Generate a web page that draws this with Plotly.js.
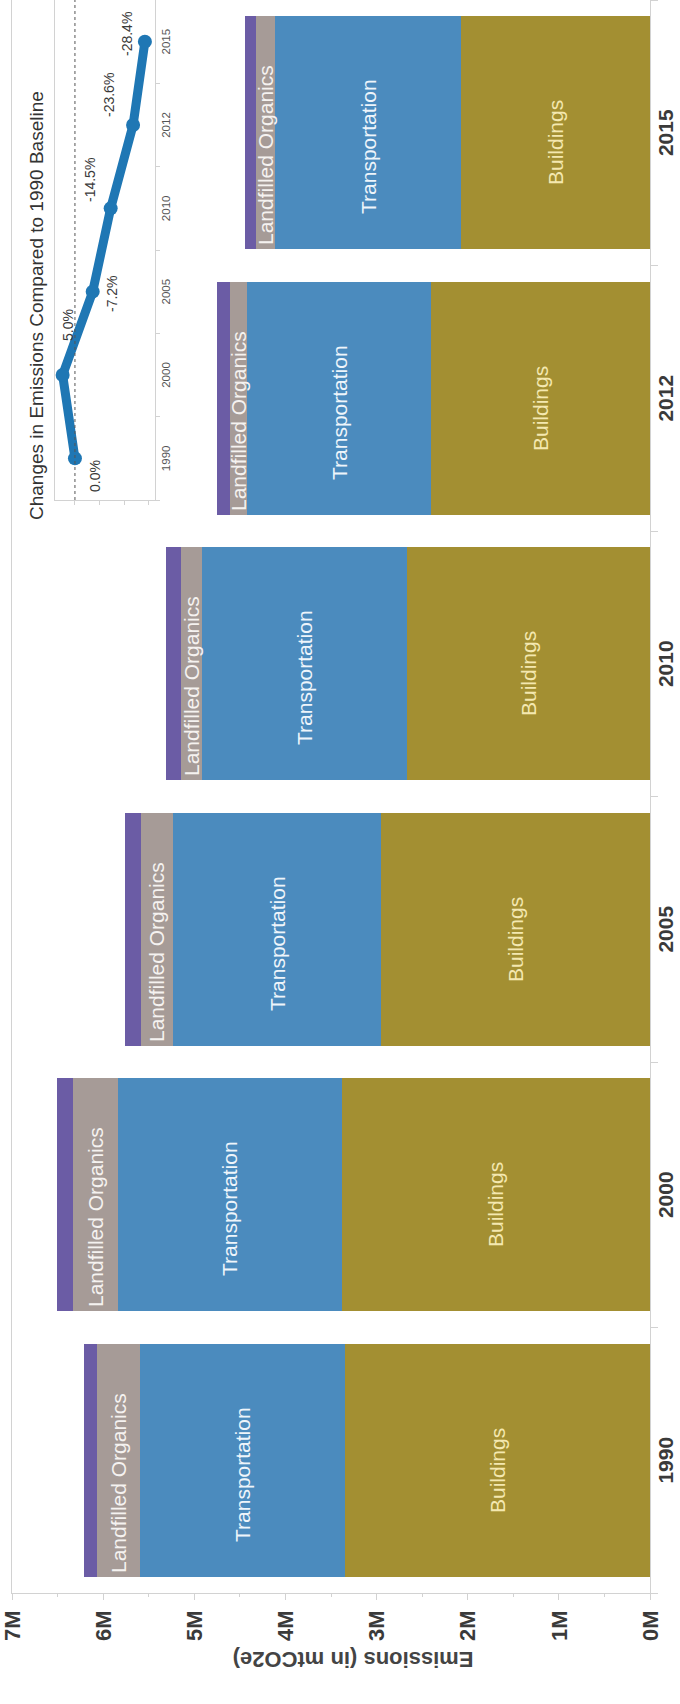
<!DOCTYPE html>
<html>
<head>
<meta charset="utf-8">
<script src="https://cdn.plot.ly/plotly-3.0.1.min.js"></script>
<style>
  html, body { margin: 0; padding: 0; width: 680px; height: 1704px; overflow: hidden; background: #fff; }
  /* the chart is laid out landscape and turned a quarter turn counter-clockwise */
  #chart { position: absolute; left: 0; top: 0; width: 1704px; height: 680px;
           transform-origin: 0 0; transform: translateY(1704px) rotate(-90deg); }
</style>
</head>
<body>
<div id="chart"></div>
<script>
// Community emissions by sector, million tCO2e
const years = ['1990', '2000', '2005', '2010', '2012', '2015'];
const buildings      = [3.35, 3.38, 2.95, 2.67, 2.40, 2.07];
const transportation = [2.25, 2.46, 2.28, 2.24, 2.02, 2.04];
const landfilled     = [0.47, 0.49, 0.36, 0.24, 0.19, 0.21];
const otherSources   = [0.14, 0.18, 0.17, 0.16, 0.14, 0.12];

// Change in total emissions relative to 1990, percent
const pctChange = [0.0, 5.0, -7.2, -14.5, -23.6, -28.4];

// Value axis ticks
const valueTicks = [0, 1, 2, 3, 4, 5, 6, 7];
const valueTickLabels = ['0M', '1M', '2M', '3M', '4M', '5M', '6M', '7M'];

// ---- layout constants ----
const W = 1704, H = 680;
const margin = { l: 111, r: 0, t: 12, b: 30 };
const bargap = 0.122;
const plotW = W - margin.l - margin.r;
const plotH = H - margin.t - margin.b;
const halfBarPx = plotW / years.length * (1 - bargap) / 2;
const catRange = [-0.5, years.length - 0.5];

const arial = '"Liberation Sans", Arial, sans-serif';
const axisGrey = '#d2d2d2';

// Inset placement (pixels inside the landscape figure)
const insetLeft = 1204, insetTop = 55, insetBottom = 155;
const toPaperX = px => (px - margin.l) / plotW;
const toPaperY = py => (H - margin.b - py) / plotH;

function barTrace(name, vals, color) {
  return { type: 'bar', name: name, x: years, y: vals,
           marker: { color: color, line: { width: 0 } }, hoverinfo: 'skip' };
}

const traces = [
  barTrace('Buildings', buildings, '#a38f32'),
  barTrace('Transportation', transportation, '#4b8bbe'),
  barTrace('Landfilled Organics', landfilled, '#a69b97'),
  barTrace('Other', otherSources, '#6b5ca5'),
  { type: 'scatter', mode: 'lines+markers', x: years, y: pctChange,
    xaxis: 'x2', yaxis: 'y2', cliponaxis: false, hoverinfo: 'skip',
    line: { color: '#1f77b4', width: 9 },
    marker: { color: '#1f77b4', size: 14 } }
];

const annotations = [];

// Segment labels inside each stacked bar (x given as category index)
years.forEach((yr, i) => {
  const b = buildings[i], t = transportation[i], l = landfilled[i];
  const base = { x: i, xref: 'x', yref: 'y', showarrow: false, borderpad: 0 };
  annotations.push(Object.assign({}, base, {
    y: b / 2, text: 'Buildings', xshift: -10,
    font: { family: arial, size: 21, color: '#f4e8b0' } }));
  annotations.push(Object.assign({}, base, {
    y: b + t / 2, text: 'Transportation', xshift: -14,
    font: { family: arial, size: 21, color: '#eef5fb' } }));
  annotations.push(Object.assign({}, base, {
    y: b + t + l / 2, text: 'Landfilled Organics', xanchor: 'left',
    xshift: -halfBarPx + 3,
    font: { family: arial, size: 21, color: '#f5f2f0' } }));
});

// Percent labels on the inset line
const pctShiftX = [-18, 50, -2, 28, 30, 8];
const pctShiftY = [-20, -5, -19, 21, 24, 18];
years.forEach((yr, i) => {
  annotations.push({
    x: i, y: pctChange[i], xref: 'x2', yref: 'y2', showarrow: false,
    text: pctChange[i].toFixed(1) + '%',
    xshift: pctShiftX[i], yshift: pctShiftY[i],
    font: { family: arial, size: 14, color: '#3a3a3a' } });
});

// Value axis title
annotations.push({
  xref: 'paper', yref: 'paper', x: toPaperX(30), y: toPaperY(353),
  showarrow: false, textangle: -90, text: 'Emissions (in mtCO2e)',
  font: { family: arial, size: 22, weight: 'bold', color: '#444' } });

const layout = {
  width: W, height: H,
  margin: margin,
  paper_bgcolor: '#fff', plot_bgcolor: '#fff',
  barmode: 'stack', bargap: bargap,
  showlegend: false, hovermode: false,
  title: {
    text: 'Changes in Emissions Compared to 1990 Baseline',
    xref: 'container', yref: 'container',
    x: 1184 / W, xanchor: 'left', y: 1 - 36 / H, yanchor: 'middle',
    font: { family: arial, size: 19, color: '#333' }
  },
  xaxis: {
    type: 'category', range: catRange, autorange: false,
    showgrid: false, zeroline: false,
    showline: true, linecolor: axisGrey, linewidth: 1, mirror: true,
    ticks: 'outside', tickson: 'boundaries', ticklen: 7, tickcolor: axisGrey,
    ticklabelstandoff: -3,
    tickfont: { family: arial, size: 21, weight: 'bold', color: '#3a3a3a' }
  },
  yaxis: {
    range: [0, 7], autorange: false, showgrid: false, zeroline: false,
    showline: true, linecolor: axisGrey, linewidth: 1,
    tickmode: 'array', tickvals: valueTicks, ticktext: valueTickLabels,
    ticks: 'outside', ticklen: 6, tickcolor: axisGrey, ticklabelstandoff: 6,
    ticklabeloverflow: 'allow',
    minor: { dtick: 0.5, tick0: 0, ticks: 'outside', ticklen: 3, tickcolor: axisGrey },
    tickfont: { family: arial, size: 22, weight: 'bold', color: '#3a3a3a' }
  },
  xaxis2: {
    type: 'category', anchor: 'y2', range: catRange, autorange: false,
    domain: [toPaperX(insetLeft), 1],
    showgrid: false, zeroline: false,
    showline: true, linecolor: axisGrey, linewidth: 1, mirror: true,
    ticks: 'outside', tickson: 'boundaries', ticklen: 4, tickcolor: axisGrey,
    tickfont: { family: arial, size: 11.5, color: '#555' }
  },
  yaxis2: {
    anchor: 'x2', range: [-32.5, 8.1], autorange: false,
    domain: [toPaperY(insetBottom), toPaperY(insetTop)],
    showgrid: false, zeroline: false,
    showline: true, linecolor: axisGrey, linewidth: 1,
    tickmode: 'array', tickvals: [0, -10, -20, -30],
    ticks: 'outside', ticklen: 4, tickcolor: axisGrey,
    showticklabels: false
  },
  shapes: [{
    type: 'line', xref: 'x2 domain', yref: 'y2',
    x0: 0, x1: 1, y0: 0, y1: 0,
    line: { color: '#555', width: 1, dash: 'dot' }
  }],
  annotations: annotations
};

Plotly.newPlot('chart', traces, layout, { displayModeBar: false, staticPlot: true });
</script>
</body>
</html>
